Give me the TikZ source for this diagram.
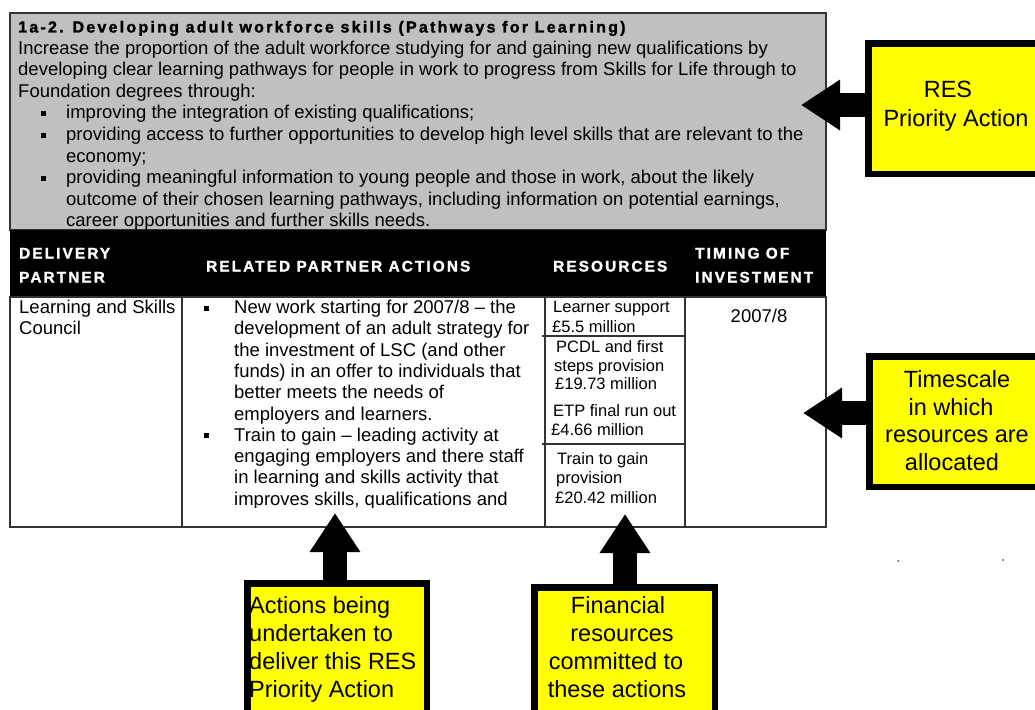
\documentclass[tikz,border=0pt]{standalone}
\usepackage{fontspec}
\setmainfont{Liberation Sans}
\newfontfamily\spacedfont{Liberation Sans Bold}[LetterSpace=14, FakeBold=1.6]
\usetikzlibrary{arrows.meta,calc}
\definecolor{panelgrey}{HTML}{C0C0C0}
\definecolor{rulegrey}{HTML}{333333}
\definecolor{boxyellow}{HTML}{FFFF00}
\begin{document}
\begin{tikzpicture}[x=1pt,y=-1pt,
  body/.style={anchor=base west, inner sep=0pt, font=\fontsize{18.5}{21.5}\selectfont},
  bodyc/.style={anchor=base, inner sep=0pt, font=\fontsize{18.5}{21.5}\selectfont},
  restxt/.style={anchor=base west, inner sep=0pt, font=\fontsize{16.5}{19}\selectfont},
  hdr/.style={anchor=base west, inner sep=0pt, text=white, font=\spacedfont\fontsize{15.3}{18}\selectfont},
  ttl/.style={anchor=base west, inner sep=0pt, font=\spacedfont\fontsize{16}{18}\selectfont},
  bul/.style={fill=black, inner sep=0pt, minimum size=5pt, rectangle},
  ybox/.style={draw=black, line width=6.5pt, fill=boxyellow, anchor=north west, inner sep=0pt},
  ytxt/.style={anchor=base, inner sep=0pt, font=\fontsize{23.5}{28}\selectfont},
  ytxtl/.style={anchor=base west, inner sep=0pt, font=\fontsize{23.5}{28}\selectfont},
  bigarrow/.style={draw=black, line width=24pt, -{Triangle[length=39pt,width=48pt]}},
  rulestyle/.style={draw=rulegrey, line width=1.3pt}
]
\useasboundingbox (0,0) rectangle (1035,709);
\clip (0,0) rectangle (1035,709);
\fill[white] (0,0) rectangle (1035,709);

% grey panel
\filldraw[fill=panelgrey, rulestyle] (10,13) rectangle (826,230);
\node[ttl] (title) at (18,32.5) {1a-2. Developing adult workforce skills (Pathways for Learning)};
\node[body] (g1) at (18,54.1) {Increase the proportion of the adult workforce studying for and gaining new qualifications by};
\node[body] (g2) at (18,75.7) {developing clear learning pathways for people in work to progress from Skills for Life through to};
\node[body] (g3) at (18,97.3) {Foundation degrees through:};
\node[bul] (gb1) at (43,113.4) {};
\node[body] (g4) at (66,118.9) {improving the integration of existing qualifications;};
\node[bul] (gb2) at (43,135.0) {};
\node[body] (g5) at (66,140.5) {providing access to further opportunities to develop high level skills that are relevant to the};
\node[body] (g6) at (66,162.1) {economy;};
\node[bul] (gb3) at (43,178.2) {};
\node[body] (g7) at (66,183.7) {providing meaningful information to young people and those in work, about the likely};
\node[body] (g8) at (66,205.3) {outcome of their chosen learning pathways, including information on potential earnings,};
\node[body] (g9) at (66,226.9) {career opportunities and further skills needs.};

% header
\fill[black] (10,230) rectangle (826,297);
\node[hdr] (h1) at (19,258.5) {DELIVERY};
\node[hdr] (h2) at (19,282.5) {PARTNER};
\node[hdr] (h3) at (206,271.5) {RELATED PARTNER ACTIONS};
\node[hdr] (h4) at (553,271.5) {RESOURCES};
\node[hdr] (h5) at (695,258.5) {TIMING OF};
\node[hdr] (h6) at (695,282.5) {INVESTMENT};

% body
\draw[rulestyle] (10,297) rectangle (826,527);
\draw[rulestyle] (182,297) -- (182,527);
\draw[rulestyle] (545,297) -- (545,527);
\draw[rulestyle] (685,297) -- (685,527);
\draw[rulestyle] (542,336) -- (685,336);
\draw[rulestyle] (542,444) -- (685,444);

\node[body] (d1) at (19,313.5) {Learning and Skills};
\node[body] (d2) at (19,334.8) {Council};

\begin{scope}
\clip (183,298) rectangle (544,507);
\node[bul] (ab1) at (206,308) {};
\node[body] (a1) at (234,313.5) {New work starting for 2007/8 -- the};
\node[body] (a2) at (234,334.8) {development of an adult strategy for};
\node[body] (a3) at (234,356.1) {the investment of LSC (and other};
\node[body] (a4) at (234,377.4) {funds) in an offer to individuals that};
\node[body] (a5) at (234,398.7) {better meets the needs of};
\node[body] (a6) at (234,420.0) {employers and learners.};
\node[bul] (ab2) at (206,435.8) {};
\node[body] (a7) at (234,441.3) {Train to gain -- leading activity at};
\node[body] (a8) at (234,462.6) {engaging employers and there staff};
\node[body] (a9) at (234,483.9) {in learning and skills activity that};
\node[body] (a10) at (234,505.2) {improves skills, qualifications and};
\end{scope}

\node[restxt] (r1) at (553,312) {Learner support};
\node[restxt] (r2) at (552,332) {£5.5 million};
\node[restxt] (r3) at (556,352) {PCDL and first};
\node[restxt] (r4) at (554,371) {steps provision};
\node[restxt] (r5) at (555,389) {£19.73 million};
\node[restxt] (r6) at (553,416) {ETP final run out};
\node[restxt] (r7) at (551,435) {£4.66 million};
\node[restxt] (r8) at (557,464) {Train to gain};
\node[restxt] (r9) at (556,483) {provision};
\node[restxt] (r10) at (555,503) {£20.42 million};

\node[bodyc] (t1) at (759,322) {2007/8};

% yellow boxes
\node[ybox, minimum width=200pt, minimum height=130.5pt] (resbox) at (865.25,40.25) {};
\node[ytxt] (rb1) at (948,97) {RES};
\node[ytxt] (rb2) at (956,126) {Priority Action};

\node[ybox, minimum width=200pt, minimum height=130.5pt] (timebox) at (866.25,353.25) {};
\node[ytxt] (tb1) at (957,387) {Timescale};
\node[ytxt] (tb2) at (951,415) {in which};
\node[ytxt] (tb3) at (957,442) {resources are};
\node[ytxt] (tb4) at (952,470) {allocated};

\node[ybox, minimum width=179.5pt, minimum height=170pt] (actbox) at (244.25,580.25) {};
\node[ytxtl] (ab1t) at (249,613) {Actions being};
\node[ytxtl] (ab2t) at (249,641) {undertaken to};
\node[ytxtl] (ab3t) at (249,669) {deliver this RES};
\node[ytxtl] (ab4t) at (249,697) {Priority Action};

\node[ybox, minimum width=180.5pt, minimum height=170pt] (finbox) at (531.25,584.25) {};
\node[ytxt] (fb1) at (618,613) {Financial};
\node[ytxt] (fb2) at (622,641) {resources};
\node[ytxt] (fb3) at (616,669) {committed to};
\node[ytxt] (fb4) at (617,697) {these actions};

% block arrows
\coordinate (resTip) at (801,105);
\coordinate (timeTip) at (803,413);
\coordinate (actTip) at (335,513);
\coordinate (finTip) at (625,514);
\draw[bigarrow] (resbox.west |- resTip) -- (resTip);
\draw[bigarrow] (timebox.west |- timeTip) -- (timeTip);
\draw[bigarrow] (actTip |- actbox.north) -- (actTip);
\draw[bigarrow] (finTip |- finbox.north) -- (finTip);

% stray dots
\fill[black!70] (898,561) circle (1pt);
\fill[black!70] (1003,560) circle (1pt);
\end{tikzpicture}
\end{document}
